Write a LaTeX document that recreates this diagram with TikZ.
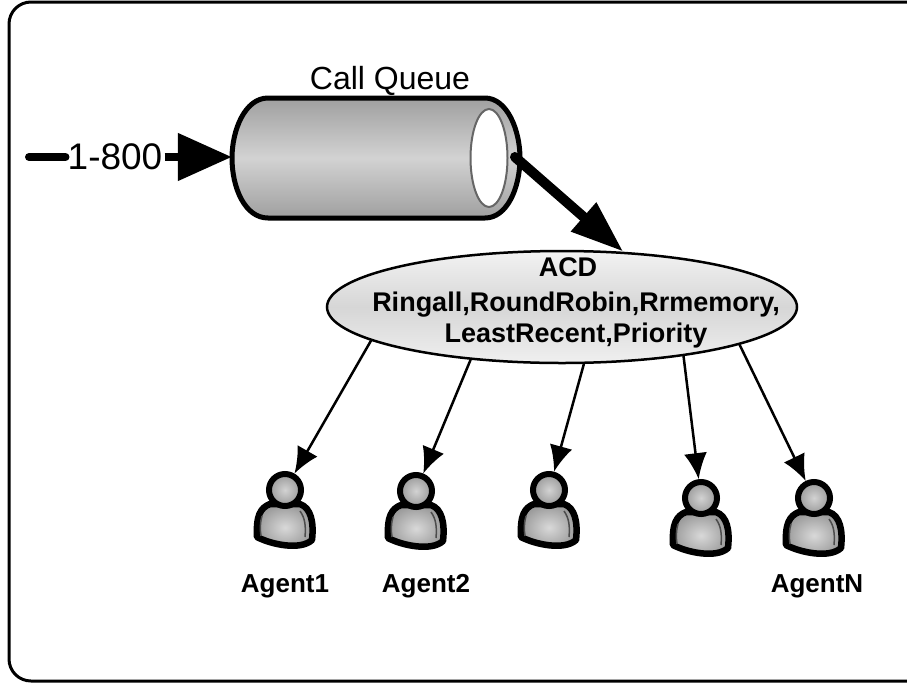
\documentclass[tikz,border=0pt]{standalone}
\usepackage{fontspec}
\setmainfont{Liberation Sans}
\usetikzlibrary{arrows.meta,positioning,shapes.geometric}

\tikzset{
	agenthead/.style = {circle,draw,line width=6pt,minimum size=32pt,inner sep=0pt,inner color=gray!35,outer color=gray!80},
	agentbody/.style = {draw,line width=6.5pt,line join=round,inner color=gray!30,outer color=gray!80},
	agentname/.style = {font=\bfseries\fontsize{26}{28}\selectfont,inner sep=0pt},
	thin arrow/.style = {line width=2.5pt,-{Latex[length=26pt,width=23pt]}},
}

\begin{document}
\begin{tikzpicture}[x=1pt,y=-1pt]
	\useasboundingbox (0,0) rectangle (907,683);
	\draw[line width=3pt,rounded corners=22pt] (9,2) rectangle (940,681);

	% queue
	\node[minimum width=288pt,minimum height=120pt,inner sep=0pt] (queue) at (376,157) {};
	\draw[line width=5pt,top color=gray!75,bottom color=gray!75,middle color=gray!35]
		(268,98) -- (485,98) .. controls (507,98) and (520,130) .. (520,158)
		.. controls (520,188) and (507,218) .. (485,218) -- (268,218)
		.. controls (245,218) and (232,188) .. (232,158)
		.. controls (232,130) and (245,98) .. (268,98) -- cycle;
	\node[ellipse,draw=gray!80!black,line width=2pt,fill=white,minimum width=37pt,minimum height=98pt,inner sep=0pt] (mouth) at (489,158) {};
	\node[above=1pt of queue,xshift=14pt,font=\fontsize{32}{34}\selectfont,inner sep=0pt] (queuename) {Call Queue};

	% incoming
	\coordinate (phone) at (29,157);
	\node[font=\fontsize{37}{39}\selectfont,inner sep=2pt] (tollfree) at (115,157) {1-800};
	\draw[line width=8pt,line cap=round] (phone) -- (tollfree.west);
	\draw[line width=8pt,-{Triangle[length=54pt,width=46pt]}] (tollfree.east) -- (queue.west);

	% acd
	\node[ellipse,draw,line width=2.5pt,top color=gray!10,bottom color=gray!12,middle color=gray!32,minimum width=470pt,minimum height=112pt,inner sep=0pt] (acd) at (562,307) {};
	\node[font=\bfseries\fontsize{27}{30}\selectfont,inner sep=0pt] (acdname) at (568,267) {ACD};
	\node[font=\bfseries\fontsize{27}{31}\selectfont,align=center,inner sep=0pt] (acdrules) at (576,320) {Ringall,RoundRobin,Rrmemory,\\LeastRecent,Priority};
	\coordinate (queueout) at (515,157);
	\draw[line width=10pt,line cap=round,-{Triangle[length=53pt,width=36pt]}] (queueout) -- (acd.42);

	% agents
	\foreach \who/\x/\y in {1/285/490,2/416/491,3/549/490,4/701/498,5/814/498}{
		\draw[agentbody,shift={(\x,\y)}] (-15,14) .. controls (-25,18) and (-29,26) .. (-28,47)
			.. controls (-15,54) and (15,61) .. (27,50) .. controls (29,32) and (26,18) .. (15,14) -- cycle;
		\draw[gray!60!black,line width=1.5pt,shift={(\x,\y)}] (15,21) .. controls (20,28) and (21,36) .. (20,47);
		\draw[gray!60!black,line width=1.5pt,shift={(\x,\y)}] (-23,26) .. controls (-25,32) and (-25,40) .. (-24,46);
		\node[agenthead] (head\who) at (\x,\y) {};
	}
	\node[agentname,below=65pt of head1] (agent1) {Agent1};
	\node[agentname,below=64pt of head2,xshift=10pt] (agent2) {Agent2};
	\node[agentname,below=57pt of head5,xshift=3pt] (agentn) {AgentN};

	\foreach \ang/\who in {190/1,210/2,291/3,338/4,348/5}
		\draw[thin arrow] (acd.\ang) -- (head\who);
\end{tikzpicture}
\end{document}
